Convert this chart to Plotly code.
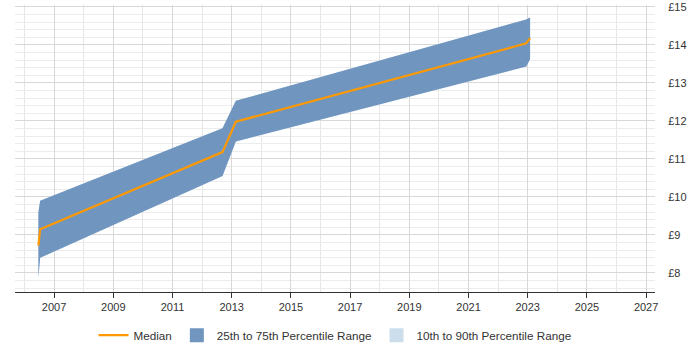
import plotly.graph_objects as go

dates = [2006.47, 2006.53, 2012.69, 2013.14, 2022.95, 2023.08]
median = [8.72, 9.15, 11.18, 11.98, 14.04, 14.18]
p25 = [7.88, 8.40, 10.55, 11.46, 13.43, 13.62]
p75 = [9.60, 9.90, 11.81, 12.53, 14.67, 14.72]
p10 = p25
p90 = p75
x_ticks = list(range(2007, 2028, 2))
y_ticks = list(range(8, 16))

band_col = "rgba(112,150,192,1)"
light_col = "rgba(204,221,236,1)"
med_col = "#ff9900"

fig = go.Figure()
fig.add_trace(go.Scatter(x=dates, y=p90, mode="lines", line=dict(width=0, color=light_col),
                         showlegend=False, hoverinfo="skip"))
fig.add_trace(go.Scatter(x=dates, y=p10, mode="lines", line=dict(width=0, color=light_col),
                         fill="tonexty", fillcolor=light_col, showlegend=False, hoverinfo="skip"))
fig.add_trace(go.Scatter(x=dates, y=p75, mode="lines", line=dict(width=0, color=band_col),
                         showlegend=False, hoverinfo="skip"))
fig.add_trace(go.Scatter(x=dates, y=p25, mode="lines", line=dict(width=0, color=band_col),
                         fill="tonexty", fillcolor=band_col, showlegend=False, hoverinfo="skip"))
fig.add_trace(go.Scatter(x=dates, y=median, mode="lines", line=dict(width=2.2, color=med_col),
                         name="Median"))
# legend entries
fig.add_trace(go.Scatter(x=[None], y=[None], mode="markers",
                         marker=dict(symbol="square", size=14, color=band_col),
                         name="25th to 75th Percentile Range"))
fig.add_trace(go.Scatter(x=[None], y=[None], mode="markers",
                         marker=dict(symbol="square", size=14, color=light_col),
                         name="10th to 90th Percentile Range"))

fig.update_layout(
    width=700, height=350,
    margin=dict(l=15, r=45, t=5, b=58, autoexpand=False),
    paper_bgcolor="white", plot_bgcolor="white",
    font=dict(family="Liberation Sans, Arial, sans-serif", size=11, color="#333"),
    showlegend=True,
    legend=dict(orientation="h", x=0.5, xanchor="center", y=-0.1, yanchor="top",
                font=dict(size=11.7, color="#333"), itemwidth=30, traceorder="normal"),
    xaxis=dict(range=[2005.68, 2027.3], tickvals=x_ticks, ticktext=[str(v) for v in x_ticks],
               showgrid=True, gridcolor="#d8d8d8", gridwidth=1,
               minor=dict(dtick=1, tick0=2006, showgrid=True, gridcolor="#e6e6e6"),
               ticks="outside", ticklen=5, tickcolor="#333", showline=True, linecolor="#333",
               linewidth=1, zeroline=False, fixedrange=True),
    yaxis=dict(range=[7.5, 15.05], side="right", tickvals=y_ticks,
               ticktext=["£%d" % v for v in y_ticks],
               showgrid=True, gridcolor="#d8d8d8", gridwidth=1,
               minor=dict(dtick=0.2, tick0=7.6, showgrid=True, gridcolor="#ececec"),
               ticks="outside", ticklen=10, tickcolor="rgba(0,0,0,0)",
               showline=False, zeroline=False, fixedrange=True),
)

fig.write_html("out.html")
